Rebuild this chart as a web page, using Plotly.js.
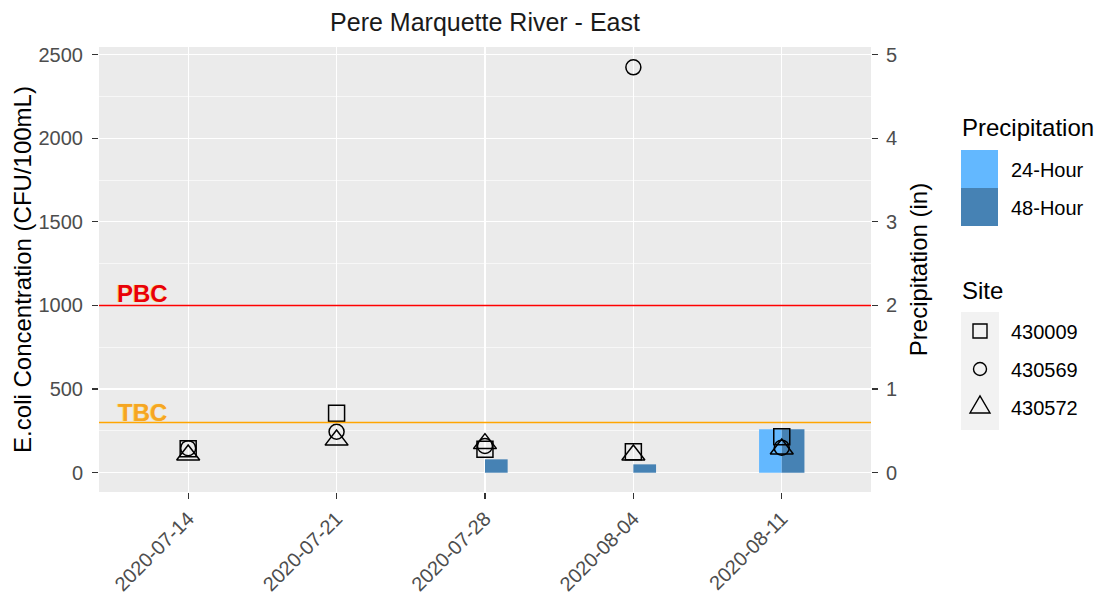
<!DOCTYPE html>
<html>
<head>
<meta charset="utf-8">
<script src="https://cdn.plot.ly/plotly-3.0.1.min.js"></script>
<style>html,body{margin:0;padding:0;background:#fff;}#chart{width:1100px;height:597px;}</style>
</head>
<body>
<div id="chart"></div>
<script>
// ---- data ----
const sampleDates = ['2020-07-14', '2020-07-21', '2020-07-28', '2020-08-04', '2020-08-11'];
const site430009 = [143, 355, 140, 125, 215];
const site430569 = [147, 245, 160, 2424, 150];
const site430572 = [106, 195, 174, 106, 142];
const precip24h = [0, 0, 0, 0, 0.52];
const precip48h = [0, 0, 0.16, 0.10, 0.52];
const siteNames = ['430009', '430569', '430572'];
const precipNames = ['24-Hour', '48-Hour'];
const thresholdValues = [1000, 300];
const thresholdLabels = ['PBC', 'TBC'];

// ---- layout helpers ----
const FONT = 'Liberation Sans, Arial, sans-serif';
const DAY = 86400000;
const L = 99, R = 229, T = 47, B = 105, W = 1100, H = 597;
const PW = W - L - R, PH = H - T - B;
const px = x => (x - L) / PW;
const py = y => (H - B - y) / PH;
const cfuRange = [-115.3, 2545.4];
const inRange = [cfuRange[0] / 500, cfuRange[1] / 500];
const lightBlue = '#63B8FF', darkBlue = '#4682B4';
const thresholdColors = ['#FF0000', '#FFA500'];

const traces = [
  {type: 'bar', x: sampleDates, y: precip24h, name: precipNames[0], xaxis: 'x', yaxis: 'y',
   width: DAY * 1.07, offset: -DAY * 1.07, marker: {color: lightBlue, line: {width: 0}}, showlegend: false, hoverinfo: 'skip'},
  {type: 'bar', x: sampleDates, y: precip48h, name: precipNames[1], xaxis: 'x', yaxis: 'y',
   width: DAY * 1.07, offset: 0, marker: {color: darkBlue, line: {width: 0}}, showlegend: false, hoverinfo: 'skip'},
  {type: 'scatter', mode: 'markers', x: sampleDates, y: site430009, name: siteNames[0], xaxis: 'x', yaxis: 'y2',
   marker: {symbol: 'square-open', size: 16, color: '#000', line: {width: 1.5, color: '#000'}}, showlegend: false},
  {type: 'scatter', mode: 'markers', x: sampleDates, y: site430569, name: siteNames[1], xaxis: 'x', yaxis: 'y2',
   marker: {symbol: 'circle-open', size: 15, color: '#000', line: {width: 1.5, color: '#000'}}, showlegend: false},
  {type: 'scatter', mode: 'markers', x: sampleDates, y: site430572, name: siteNames[2], xaxis: 'x', yaxis: 'y2',
   marker: {symbol: 'triangle-up-open', size: 20, color: '#000', line: {width: 1.5, color: '#000'}}, showlegend: false}
];

const shapes = [];
const annotations = [];

// threshold lines
thresholdValues.forEach((v, i) => {
  shapes.push({type: 'line', xref: 'paper', yref: 'y2', x0: 0, x1: 1, y0: v, y1: v,
    line: {color: thresholdColors[i], width: 1.6}, layer: 'above'});
});
annotations.push({xref: 'x', yref: 'y2', x: '2020-07-11 20:30', y: 1070, text: '<b>' + thresholdLabels[0] + '</b>',
  showarrow: false, xanchor: 'center', yanchor: 'middle', font: {family: FONT, size: 24, color: '#E8000B', shadow: '-1px 0px 1px #FFD23F'}});
annotations.push({xref: 'x', yref: 'y2', x: '2020-07-11 20:30', y: 360, text: '<b>' + thresholdLabels[1] + '</b>',
  showarrow: false, xanchor: 'center', yanchor: 'middle', font: {family: FONT, size: 24, color: '#F5A623', shadow: '-1px 0px 1px #FFD23F'}});

// manual legend: Precipitation
annotations.push({xref: 'paper', yref: 'paper', x: px(960), y: py(128), text: 'Precipitation', showarrow: false,
  xanchor: 'left', yanchor: 'middle', font: {family: FONT, size: 24, color: '#000'}});
shapes.push({type: 'rect', xref: 'paper', yref: 'paper', x0: px(961), x1: px(998), y0: py(150), y1: py(188), fillcolor: lightBlue, line: {width: 0}});
shapes.push({type: 'rect', xref: 'paper', yref: 'paper', x0: px(961), x1: px(998), y0: py(188), y1: py(226), fillcolor: darkBlue, line: {width: 0}});
annotations.push({xref: 'paper', yref: 'paper', x: px(1009), y: py(170), text: precipNames[0], showarrow: false,
  xanchor: 'left', yanchor: 'middle', font: {family: FONT, size: 20, color: '#000'}});
annotations.push({xref: 'paper', yref: 'paper', x: px(1009), y: py(208), text: precipNames[1], showarrow: false,
  xanchor: 'left', yanchor: 'middle', font: {family: FONT, size: 20, color: '#000'}});

// manual legend: Site
annotations.push({xref: 'paper', yref: 'paper', x: px(960), y: py(290), text: 'Site', showarrow: false,
  xanchor: 'left', yanchor: 'middle', font: {family: FONT, size: 24, color: '#000'}});
shapes.push({type: 'rect', xref: 'paper', yref: 'paper', x0: px(961), x1: px(999), y0: py(312), y1: py(430), fillcolor: '#F2F2F2', line: {width: 0}});
const kc = 980, ky = [331, 369, 407];
shapes.push({type: 'rect', xref: 'paper', yref: 'paper', x0: px(kc - 7), x1: px(kc + 7), y0: py(ky[0] - 7), y1: py(ky[0] + 7), line: {color: '#000', width: 1.4}});
shapes.push({type: 'circle', xref: 'paper', yref: 'paper', x0: px(kc - 6.5), x1: px(kc + 6.5), y0: py(ky[1] - 6.5), y1: py(ky[1] + 6.5), line: {color: '#000', width: 1.4}});
shapes.push({type: 'path', xref: 'paper', yref: 'paper',
  path: 'M' + px(kc - 10) + ',' + py(ky[2] + 6) + ' L' + px(kc + 10) + ',' + py(ky[2] + 6) + ' L' + px(kc) + ',' + py(ky[2] - 11) + ' Z',
  line: {color: '#000', width: 1.4}});
siteNames.forEach((s, i) => {
  annotations.push({xref: 'paper', yref: 'paper', x: px(1009), y: py(ky[i] + 1), text: s, showarrow: false,
    xanchor: 'left', yanchor: 'middle', font: {family: FONT, size: 20, color: '#000'}});
});

const layout = {
  width: W, height: H,
  margin: {l: L, r: R, t: T, b: B, pad: 0},
  paper_bgcolor: '#FFFFFF',
  plot_bgcolor: '#EBEBEB',
  font: {family: FONT, color: '#000'},
  showlegend: false,
  barmode: 'overlay',
  title: {text: 'Pere Marquette River - East', font: {family: FONT, size: 25, color: '#1A1A1A'},
    x: 0.5, xref: 'paper', xanchor: 'center', y: 1 - 22 / H, yref: 'container', yanchor: 'middle'},
  xaxis: {
    type: 'date',
    range: ['2020-07-09 19:02', '2020-08-15 05:02'],
    tick0: '2020-07-14', dtick: 7 * DAY, tickformat: '%Y-%m-%d', tickangle: -45,
    showgrid: true, gridcolor: '#FFFFFF', gridwidth: 1.3,
    zeroline: false, showline: false,
    ticks: 'outside', ticklen: 6, tickwidth: 1.2, tickcolor: '#333333',
    tickfont: {family: FONT, size: 20, color: '#4D4D4D'},
    fixedrange: true
  },
  yaxis: {
    side: 'right', range: inRange,
    tick0: 0, dtick: 1,
    showgrid: true, gridcolor: '#FFFFFF', gridwidth: 1.3,
    minor: {dtick: 0.5, showgrid: true, gridcolor: '#FFFFFF', gridwidth: 0.6, ticks: ''},
    zeroline: false, showline: false,
    ticks: 'outside', ticklen: 6, tickwidth: 1.2, tickcolor: '#333333',
    ticklabelstandoff: 4,
    tickfont: {family: FONT, size: 20, color: '#4D4D4D'},
    title: {text: 'Precipitation (in)', font: {family: FONT, size: 24, color: '#000'}, standoff: 14},
    fixedrange: true
  },
  yaxis2: {
    overlaying: 'y', side: 'left', range: cfuRange,
    tick0: 0, dtick: 500,
    showgrid: false, zeroline: false, showline: false,
    ticks: 'outside', ticklen: 6, tickwidth: 1.2, tickcolor: '#333333',
    ticklabelstandoff: 5,
    tickfont: {family: FONT, size: 20, color: '#4D4D4D'},
    title: {text: 'E.coli Concentration (CFU/100mL)', font: {family: FONT, size: 24, color: '#000'}, standoff: 0},
    fixedrange: true
  },
  shapes: shapes,
  annotations: annotations
};

Plotly.newPlot('chart', traces, layout, {displayModeBar: false, staticPlot: true});
</script>
</body>
</html>
